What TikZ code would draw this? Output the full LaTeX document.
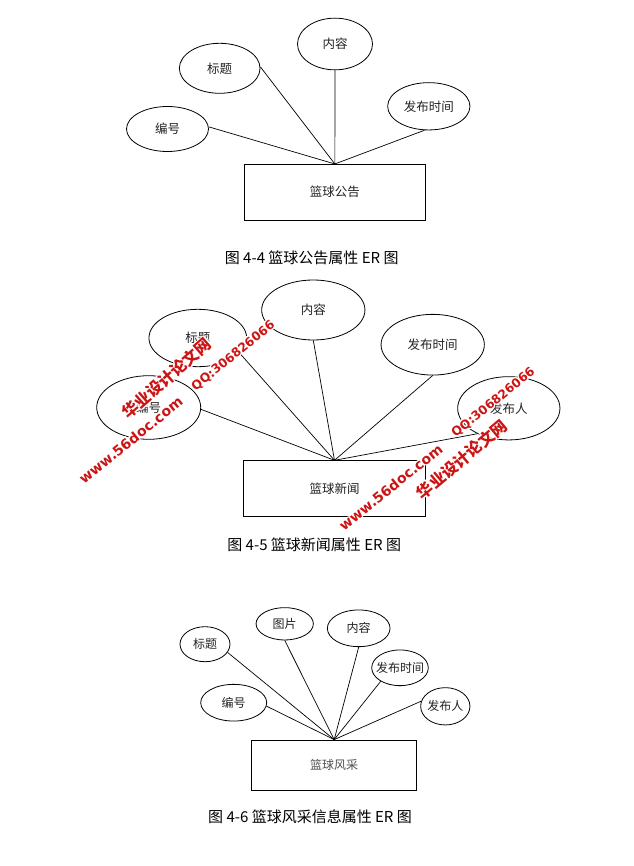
\documentclass[tikz,border=0pt]{standalone}
\usepackage{fontspec}
\setmainfont{Noto Sans CJK SC}
\newfontfamily\wmlat{DejaVu Sans}
\usetikzlibrary{shapes.geometric}
\definecolor{wmred}{RGB}{205,20,20}
\definecolor{txt}{RGB}{35,35,35}
\tikzset{
  attr/.style={draw, ellipse, inner sep=0pt, line width=0.8pt, text=txt},
  ent/.style={draw, rectangle, inner sep=0pt, line width=0.8pt, text=txt},
  link/.style={line width=0.7pt},
  figcap/.style={inner sep=0pt, text=black, font=\fontsize{15}{15}\selectfont},
  lbl/.style={font=\fontsize{12.5}{12.5}\selectfont},
  lbls/.style={font=\fontsize{12}{12}\selectfont},
}
\newcommand\wmk[5]{%
  \foreach \hx/\hy [count=\hk] in {1.3/0,-1.3/0,0/1.3,0/-1.3,0.9/0.9,-0.9/0.9,0.9/-0.9,-0.9/-0.9}
    {\node[rotate=#3, font=#4, text=white, xshift=\hx pt, yshift=\hy pt, inner sep=0pt] (#1h\hk) at (#2) {#5};}
  \node[rotate=#3, font=#4, text=wmred, inner sep=0pt] (#1) at (#2) {#5};}
\begin{document}
\begin{tikzpicture}[x=1pt,y=-1pt]
\useasboundingbox[fill=white] (0,0) rectangle (633,866);

% ---------- Figure 4-4 ----------
\node[ent, minimum width=181.7, minimum height=55.7, lbl] (e1) at (334.85,192.2) {篮球公告};
\node[attr, minimum width=82, minimum height=45, lbl] (a1) at (167.5,129) {\makebox[0pt]{编号}};
\node[attr, minimum width=80.7, minimum height=50, lbl] (a2) at (219.7,68.3) {\makebox[0pt]{标题}};
\node[attr, minimum width=75, minimum height=51.7, lbl] (a3) at (335,44) {\makebox[0pt]{内容}};
\node[attr, minimum width=82.3, minimum height=47.3, lbl] (a4) at (428.8,106.3) {\makebox[0pt]{发布时间}};
\draw[link] (a1.3) -- (e1.north);
\draw[link] (a2.2) -- (e1.north);
\draw[link] (a3.south) -- (e1.north);
\draw[link] (a4.260) -- (e1.north);
\node[figcap] (c1) at (311.7,258.3) {图 4-4 篮球公告属性 ER 图};

% ---------- Figure 4-5 ----------
\node[ent, minimum width=182.4, minimum height=55.3, lbl] (e2) at (334.5,488.35) {篮球新闻};
\node[attr, minimum width=104, minimum height=63.6, lbl] (b1) at (148.7,407.5) {\makebox[0pt]{编号}};
\node[attr, minimum width=97.7, minimum height=57.4, lbl] (b2) at (197.8,338) {\makebox[0pt]{标题}};
\node[attr, minimum width=103.3, minimum height=60, lbl] (b3) at (313.3,310) {\makebox[0pt]{内容}};
\node[attr, minimum width=103.3, minimum height=60.7, lbl] (b4) at (432.7,344.7) {\makebox[0pt]{发布时间}};
\node[attr, minimum width=102.3, minimum height=63.3, lbl] (b5) at (508.8,408.3) {\makebox[0pt]{发布人}};
\draw[link] (b1.-2) -- (e2.north);
\draw[link] (b2.-20) -- (e2.north);
\draw[link] (b3.south) -- (e2.north);
\draw[link] (b4.south) -- (e2.north);
\draw[link] (b5.219) -- (e2.north);
\node[figcap] (c2) at (314.2,545) {图 4-5 篮球新闻属性 ER 图};

% ---------- Figure 4-6 ----------
\node[ent, minimum width=165, minimum height=50, lbls, text=txt!80] (e3) at (334.2,765) {篮球风采};
\node[attr, minimum width=66, minimum height=36.7, lbls] (d1) at (233.7,702.7) {\makebox[0pt]{编号}};
\node[attr, minimum width=50, minimum height=35, lbls] (d2) at (205,644.2) {\makebox[0pt]{标题}};
\node[attr, minimum width=57.3, minimum height=32.3, lbls] (d3) at (284.7,623.8) {\makebox[0pt]{图片}};
\node[attr, minimum width=62.7, minimum height=36.7, lbls] (d4) at (358.7,628.3) {\makebox[0pt]{内容}};
\node[attr, minimum width=56.6, minimum height=35.7, lbls] (d5) at (400,667.8) {\makebox[0pt]{发布时间}};
\node[attr, minimum width=49.3, minimum height=37.3, lbls] (d6) at (445.3,706.3) {\makebox[0pt]{发布人}};
\draw[link] (d1.-6) -- (e3.north);
\draw[link] (d2.-20) -- (e3.north);
\draw[link] (d3.south) -- (e3.north);
\draw[link] (d4.south) -- (e3.north);
\draw[link] (d5.215) -- (e3.north);
\draw[link] (d6.168) -- (e3.north);
\node[figcap] (c3) at (310,816.7) {图 4-6 篮球风采信息属性 ER 图};

% ---------- watermarks ----------
\wmk{wa}{166.7,378.3}{41}{\bfseries\fontsize{16}{16}\selectfont}{华业设计论文网}
\wmk{wb}{233.3,356}{39}{\wmlat\bfseries\fontsize{12.3}{12.3}\selectfont}{QQ:306826066}
\wmk{wc}{130.7,440}{39}{\wmlat\bfseries\fontsize{14}{14}\selectfont}{www.56doc.com}
\wmk{wd}{493.3,402.7}{39}{\wmlat\bfseries\fontsize{12.3}{12.3}\selectfont}{QQ:306826066}
\wmk{we}{390.7,487.3}{39}{\wmlat\bfseries\fontsize{14}{14}\selectfont}{www.56doc.com}
\wmk{wf}{461.7,459.3}{40}{\bfseries\fontsize{16}{16}\selectfont}{华业设计论文网}
\end{tikzpicture}
\end{document}
